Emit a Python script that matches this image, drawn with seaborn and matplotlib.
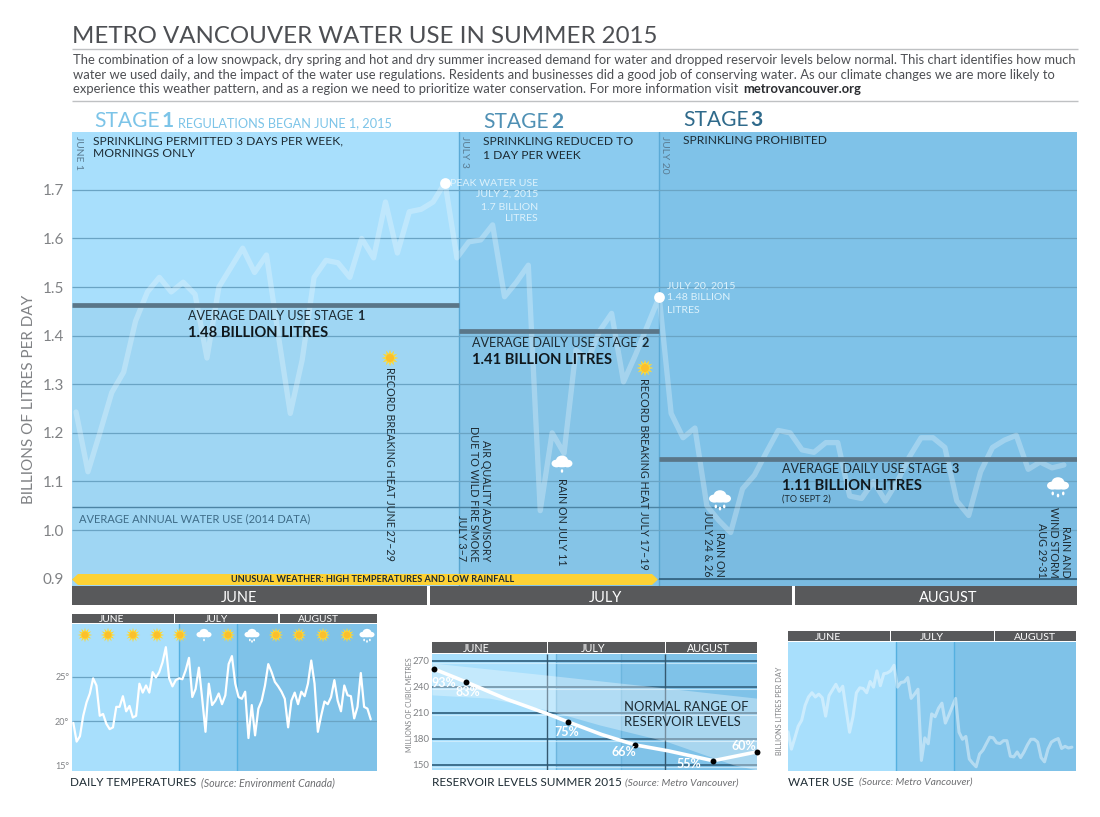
import matplotlib
matplotlib.use("Agg")
import matplotlib.pyplot as plt
from matplotlib.patches import Circle, Ellipse, Polygon, Rectangle
import numpy as np
import seaborn as sns

# daily water use, June 1 onward, billions of litres
WATER_USE = [1.243, 1.12, 1.20, 1.283, 1.325, 1.43, 1.49, 1.52, 1.49, 1.51, 1.485, 1.354,
             1.50, 1.54, 1.58, 1.53, 1.566, 1.40, 1.24, 1.35, 1.52, 1.555, 1.55, 1.52,
             1.60, 1.56, 1.675, 1.57, 1.655, 1.66, 1.675, 1.715, 1.56, 1.593, 1.597, 1.628,
             1.48, 1.51, 1.545, 1.04, 1.20, 1.158, 1.37, 1.35, 1.41, 1.446, 1.305, 1.36,
             1.42, 1.48, 1.24, 1.19, 1.21, 1.05, 1.02, 0.995, 1.085, 1.113, 1.16, 1.205,
             1.20, 1.165, 1.16, 1.18, 1.18, 1.07, 1.065, 1.10, 1.06, 1.10, 1.15, 1.19,
             1.19, 1.17, 1.06, 1.03, 1.12, 1.17, 1.185, 1.195, 1.125, 1.14, 1.128, 1.134]
AVG_STAGE = [1.463, 1.409, 1.147]
AVG_ANNUAL = 1.047
USE_TICKS = [0.9, 1.0, 1.1, 1.2, 1.3, 1.4, 1.5, 1.6, 1.7]
PEAK_DAYS = [31, 49]

# daily temperatures, degrees C
TEMPERATURE = [19.8, 17.7, 18.3, 20.6, 22.1, 23.1, 24.8, 24.0, 20.6, 20.8, 19.7, 19.1, 19.3,
               21.6, 21.6, 22.8, 21.1, 21.7, 20.4, 20.6, 24.2, 23.2, 24.0, 23.2, 25.5, 24.9,
               25.5, 26.6, 28.3, 24.8, 23.9, 24.6, 24.8, 24.7, 25.7, 27.1, 22.7, 23.6, 26.0,
               22.5, 18.8, 24.2, 21.8, 22.3, 23.1, 21.9, 22.9, 26.4, 27.3, 24.2, 22.7, 22.5,
               23.3, 18.1, 21.8, 18.4, 21.4, 22.3, 24.0, 26.4, 25.5, 24.4, 23.9, 23.3, 22.5,
               19.3, 22.3, 23.2, 21.9, 23.3, 22.8, 24.2, 26.8, 24.2, 18.8, 20.6, 22.2, 21.9,
               22.7, 24.6, 22.3, 21.1, 24.0, 22.9, 22.8, 20.3, 21.6, 25.4, 21.6, 21.4, 20.2]
TEMP_TICKS = [15, 20, 25]
TEMP_LABELS = ["15°", "20°", "25°"]

# reservoir levels, million cubic metres
LEVEL_DAYS = [0.5, 9.6, 21, 32.6, 38.5, 48, 57.5, 67, 79.6, 92]
LEVELS = [260.8, 245.8, 226, 209, 199.6, 185, 173, 166, 154.7, 165]
MARK_DAYS = [0.5, 9.6, 38.5, 57.5, 79.6, 92]
MARK_LEVELS = [260.8, 245.8, 199.6, 173, 154.7, 165]
MARK_PCT = ["93%", "83%", "75%", "66%", "55%", "60%"]
BAND_DAYS = [0, 16.3, 32.4, 47.5, 66.4, 85.3, 92]
BAND_LOW = [230.8, 227, 213.5, 196, 177, 150, 144]
BAND_HIGH = [267.6, 260.6, 253.7, 247, 238.6, 230, 227]
LEVEL_TICKS = [150, 180, 210, 240, 270]

MONTHS = ["JUNE", "JULY", "AUGUST"]
INTRO = [
    "The combination of a low snowpack, dry spring and hot and dry summer increased demand for water and dropped reservoir levels below normal. This chart identifies how much",
    "water we used daily, and the impact of the water use regulations. Residents and businesses did a good job of conserving water. As our climate changes we are more likely to",
    "experience this weather pattern, and as a region we need to prioritize water conservation. For more information visit ",
]

STAGE_COLORS = ["#A8DFFC", "#8BCBEF", "#7FC2E8"]
GRID = "#6AA4C4"
BAR = "#58595B"
W, H = 1100, 817

sns.set_theme(style="white")
plt.rcParams["font.family"] = ["Lato", "DejaVu Sans"]

fig = plt.figure(figsize=(W / 100, H / 100), dpi=100, facecolor="white")


def panel(x0, y0, x1, y1):
    ax = fig.add_axes([x0 / W, 1 - y1 / H, (x1 - x0) / W, (y1 - y0) / H])
    sns.despine(ax=ax, left=True, bottom=True)
    ax.set_xticks([])
    ax.tick_params(axis="y", length=0)
    return ax


def stages(ax, bounds, line_color="#5BAAD6"):
    for left, right, color in zip(bounds[:-1], bounds[1:], STAGE_COLORS):
        ax.axvspan(left, right, color=color, lw=0, zorder=0)
    for b in bounds[1:-1]:
        ax.axvline(b, color=line_color, lw=1, zorder=1)


# main chart -------------------------------------------------------------
ax = panel(72, 132, 1077, 586)
days = np.arange(len(WATER_USE))
ax.set_xlim(-0.34, 84.1)
ax.set_ylim(0.885, 1.819)
bounds = [-0.34, 32.2, 49, 84.1]
stages(ax, bounds)
for left, right, avg in zip(bounds[:-1], bounds[1:], AVG_STAGE):
    ax.fill_between([left, right], 0.885, avg, color="#4E7E9C", alpha=0.09, lw=0, zorder=1)
ax.hlines(USE_TICKS, -0.34, 84.1, color=GRID, lw=0.9, zorder=2)
ax.hlines(0.9, 49, 84.1, color="#2F5F7D", lw=1.2, zorder=2)
ax.hlines(AVG_ANNUAL, -0.34, 84.1, color="#4C84A4", lw=1, zorder=2)
sns.lineplot(x=days, y=WATER_USE, ax=ax, color="white", alpha=0.27, lw=3.8, zorder=3,
             solid_joinstyle="round", errorbar=None)
ax.hlines(AVG_STAGE, bounds[:-1], bounds[1:], color="#5A7688", lw=3.4, zorder=4)
sns.scatterplot(x=PEAK_DAYS, y=[WATER_USE[d] for d in PEAK_DAYS], ax=ax, color="white", s=60,
                linewidth=0, zorder=5)
ax.set_yticks(USE_TICKS)
ax.set_yticklabels([f"{t:.1f}" for t in USE_TICKS], color="#808285", fontsize=11)
ax.tick_params(axis="y", pad=6)

# temperature panel
ax_t = panel(72, 624, 377, 771)
ax_t.set_xlim(-0.4, 91.9)
ax_t.set_ylim(14.4, 30.9)
stages(ax_t, [-0.4, 32.1, 49.6, 91.9], "#55B0E0")
ax_t.hlines([20, 25], -0.4, 91.9, color=GRID, lw=0.9, zorder=2)
sns.lineplot(x=np.arange(len(TEMPERATURE)), y=TEMPERATURE, ax=ax_t, color="white", lw=1.6, zorder=3,
             errorbar=None)
ax_t.set_yticks(TEMP_TICKS)
ax_t.set_yticklabels(TEMP_LABELS, color="#808285", fontsize=6.5)
ax_t.tick_params(axis="y", pad=2)

# reservoir panel
ax_r = panel(432, 654, 757, 770)
ax_r.set_xlim(0, 92)
ax_r.set_ylim(144, 278)
stages(ax_r, [0, 35, 53.5, 92], "#6DB6DE")
ax_r.hlines(LEVEL_TICKS, 0, 92, color="#3E6F8E", lw=1.4, zorder=1.5)
ax_r.hlines([t - 2 for t in LEVEL_TICKS], 0, 92, color="#D9F1FC", lw=0.8, alpha=0.7, zorder=1.5)
ax_r.vlines([32.6, 66], 144, 278, color="#34586F", lw=1, zorder=1.5)
ax_r.fill_between(BAND_DAYS, BAND_LOW, BAND_HIGH, color="white", alpha=0.33, lw=0, zorder=2)
sns.lineplot(x=LEVEL_DAYS, y=LEVELS, ax=ax_r, color="white", lw=2.6, zorder=3, errorbar=None)
sns.scatterplot(x=MARK_DAYS, y=MARK_LEVELS, ax=ax_r, color="black", s=18, linewidth=0, zorder=4,
                clip_on=False)
ax_r.set_yticks(LEVEL_TICKS)
ax_r.set_yticklabels(LEVEL_TICKS, color="#808285", fontsize=7)
ax_r.tick_params(axis="y", pad=2)

# small water use panel
ax_w = panel(788, 642, 1076, 771)
ax_w.set_xlim(0, 84.2)
ax_w.set_ylim(0.965, 1.88)
stages(ax_w, [0, 31.5, 48.5, 84.2], "#55B0E0")
sns.lineplot(x=days, y=WATER_USE, ax=ax_w, color="white", alpha=0.42, lw=2.2, zorder=3, errorbar=None)
ax_w.set_yticks([])

# everything laid out in pixels goes on an overlay
ov = fig.add_axes([0, 0, 1, 1], zorder=10)
ov.set_xlim(0, W)
ov.set_ylim(H, 0)
ov.axis("off")
ov.patch.set_alpha(0)


def txt(x, y, s, size, color="#1D2B33", weight="normal", ha="left", va="center", **kw):
    return ov.text(x, y, s, fontsize=size * 0.72, color=color, fontweight=weight, ha=ha, va=va, **kw)


def vtxt(x, y, s, size=10.7, color="#1D2B33", va="top"):
    return ov.text(x, y, s, fontsize=size * 0.72, color=color, rotation=-90, ha="center", va=va)


def sun(x, y, size=1.0):
    angle = np.linspace(0, 2 * np.pi, 24, endpoint=False)
    radius = np.where(np.arange(24) % 2 == 0, 8.5, 4.5) * size
    star = np.column_stack([x + radius * np.cos(angle), y + radius * np.sin(angle)])
    ov.add_patch(Polygon(star, color="#FDD835", lw=0, zorder=5))
    ov.add_patch(Circle((x, y), 4 * size, color="#FBC02D", lw=0, zorder=6))


def cloud(x, y, size=1.0, drops=(0,)):
    for dx, dy, w, h in [(-5.5, 1.5, 9, 7), (5.5, 1.5, 9, 7), (0, -1.5, 11, 9), (0, 2, 17, 6)]:
        ov.add_patch(Ellipse((x + dx * size, y + dy * size), w * size * 1.1, h * size * 1.1,
                             color="white", lw=0, zorder=5))
    for i, dx in enumerate(drops):
        ov.add_patch(Ellipse((x + dx * size, y + (9 + (i % 2) * 2) * size), 2.4 * size, 3.6 * size,
                             color="white", lw=0, zorder=5))


def month_bar(spans, centers, y0, y1, size):
    for (left, right), cx, name in zip(spans, centers, MONTHS):
        ov.add_patch(Rectangle((left, y0), right - left, y1 - y0, color=BAR, lw=0))
        txt(cx, (y0 + y1) / 2 + 0.5, name, size, color="white", ha="center", va="center_baseline")


def after(artist):
    return ov.transData.inverted().transform(
        (artist.get_window_extent(fig.canvas.get_renderer()).x1, 0))[0]


# header
txt(72, 36.5, "METRO VANCOUVER WATER USE IN SUMMER 2015", 24, color="#4D4F53")
ov.hlines([49, 100.5], 72, 1078, color="#BFC1C3", lw=1)
for y, line in zip([60, 74.5, 89], INTRO):
    last = txt(73, y, line, 13, color="#4D4F53")
txt(after(last) + 1, 89, "metrovancouver.org", 13, color="#2A2C30", weight="bold")

# stage headings
txt(94, 121, "STAGE", 21, color="#7CC4E8")
txt(162, 121, "1", 21, color="#7CC4E8", weight="bold")
txt(178, 123, "REGULATIONS BEGAN JUNE 1, 2015", 12.7, color="#7CC4E8")
txt(483, 122, "STAGE", 21, color="#4F90B4")
txt(551, 122, "2", 21, color="#4F90B4", weight="bold")
txt(683, 120, "STAGE", 21, color="#2F6A8B")
txt(750, 120, "3", 21, color="#2F6A8B", weight="bold")
txt(93, 140.5, "SPRINKLING PERMITTED 3 DAYS PER WEEK,", 12.1)
txt(93, 153.5, "MORNINGS ONLY", 12.1)
txt(483, 141.5, "SPRINKLING REDUCED TO", 12.1)
txt(483, 155.5, "1 DAY PER WEEK", 12.1)
txt(683, 140.5, "SPRINKLING PROHIBITED", 12)
for x, s in [(78, "JUNE 1"), (465, "JULY 3"), (665, "JULY 20")]:
    vtxt(x, 135.5, s, size=10.2, color="#5B7C92")

# callouts
for y, s in zip([183, 194.5, 207, 218.5], ["PEAK WATER USE", "JULY 2, 2015", "1.7 BILLION", "LITRES"]):
    txt(538, y, s, 10.5, color="#DDF2FC", ha="right")
for y, s in zip([286, 298, 310], ["JULY 20, 2015", "1.48 BILLION", "LITRES"]):
    txt(667, y, s, 10.5, color="#DDF2FC")
for x, y, n, val in [(188, 316, "1", "1.48"), (472, 343, "2", "1.41"), (782, 469, "3", "1.11")]:
    t = txt(x, y, "AVERAGE DAILY USE STAGE ", 12.6)
    txt(after(t) + 1, y, n, 12.6, weight="bold")
    txt(x, y + 17, f"{val} BILLION LITRES", 14.8, color="#10181D", weight="bold")
txt(782, 499.5, "(TO SEPT 2)", 9.2)
txt(79, 518.5, "AVERAGE ANNUAL WATER USE (2014 DATA)", 11.1, color="#3E6C88")

# weather notes
vtxt(390, 367, "RECORD BREAKING HEAT JUNE 27–29")
vtxt(644, 378, "RECORD BREAKING HEAT JULY 17–19")
vtxt(485, 561, "AIR QUALITY ADVISORY", va="bottom")
vtxt(473, 561, "DUE TO WILD FIRE SMOKE", va="bottom")
vtxt(462, 561, "JULY 3–7", va="bottom")
vtxt(561, 566, "RAIN ON JULY 11", va="bottom")
vtxt(719, 577, "RAIN ON", va="bottom")
vtxt(707, 577, "JULY 24 & 26", va="bottom")
vtxt(1066, 578, "RAIN AND", va="bottom")
vtxt(1054, 578, "WIND STORM", va="bottom")
vtxt(1042, 578, "AUG 29-31", va="bottom")
sun(390, 358)
sun(645, 368)
cloud(562, 462, 1.0, drops=(0,))
cloud(720, 497, 1.05, drops=(-4, 0, 4))
cloud(1058, 484, 1.05, drops=(-5, 0, 5))

# unusual weather arrow
ov.add_patch(Polygon([(72, 579.5), (78, 574), (652, 574), (658, 579.5), (652, 585), (78, 585)],
                     color="#FDD235", lw=0))
txt(372.5, 580, "UNUSUAL WEATHER: HIGH TEMPERATURES AND LOW RAINFALL", 9.2, color="#1D2B33", weight="bold", ha="center")
month_bar([(72, 427), (430, 792), (795, 1077)], [239, 606, 948], 586, 605, 14.5)

# axis titles
txt(29, 399, "BILLIONS OF LITRES PER DAY", 15.3, color="#808285", ha="center", rotation=90)
txt(409, 705, "MILLIONS OF CUBIC METRES", 7, color="#808285", ha="center", rotation=90)
txt(779, 711, "BILLIONS LITRES PER DAY", 7.4, color="#808285", ha="center", rotation=90)

# small chart furniture
month_bar([(72, 173.5), (175, 278), (280, 377)], [112, 216, 318], 614, 623, 10.2)
month_bar([(432, 547), (548, 665), (666, 757)], [476, 593, 708], 642, 653, 10.8)
month_bar([(788, 890), (891, 994), (995, 1076)], [828, 932, 1035], 631, 641, 10.5)
for x in [85, 108, 133, 157, 180, 228, 276, 299, 323, 347]:
    sun(x, 635, 0.85)
for x, d in [(204, (0,)), (252, (-3, 0, 3)), (367, (-4, 0, 4))]:
    cloud(x, 633.5, 0.72, drops=d)
for x, y, s in zip([444, 468, 567, 624, 689, 744], [683, 692, 732, 752, 764, 746], MARK_PCT):
    txt(x, y, s, 12.5, color="white", weight="bold", ha="center")
txt(624, 707, "NORMAL RANGE OF", 13, color="#1D2B33")
txt(624, 722, "RESERVOIR LEVELS", 13, color="#1D2B33")

# small chart captions
for x, y, s, sx, src, size in [(70, 782, "DAILY TEMPERATURES", 201, "(Source: Environment Canada)", 10.6),
                               (432, 783, "RESERVOIR LEVELS SUMMER 2015", 625, "(Source: Metro Vancouver)", 10.3),
                               (788, 782, "WATER USE", 859, "(Source: Metro Vancouver)", 10.3)]:
    txt(x, y, s, 11.7, color="#1D2B33")
    txt(sx, y + 0.5, src, size, color="#6D6E71", style="italic")

fig.savefig("out.png", dpi=100)
